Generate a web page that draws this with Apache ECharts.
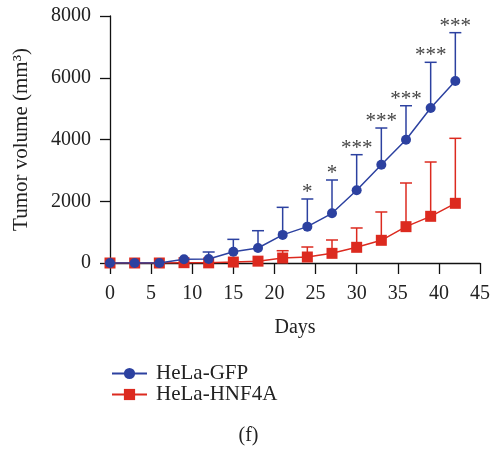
<!DOCTYPE html>
<html><head><meta charset="utf-8">
<script src="https://cdn.jsdelivr.net/npm/echarts@6/dist/echarts.min.js"></script>
<style>html,body{margin:0;padding:0;background:#fff}#c{width:497px;height:449px}</style>
</head><body><div id="c"></div>
<script>
const days = [0,3,6,9,12,15,18,21,24,27,30,33,36,39,42];
const gfpMean = [0,0,0,120,130,366,486,910,1177,1609,2354,3184,3994,5020,5895];
const gfpErr  = [0,0,0,0,226,400,560,893,896,1079,1154,1188,1100,1480,1565];
const hnfMean = [0,0,0,10,5,30,60,160,194,313,508,735,1177,1512,1933];
const hnfErr  = [0,0,0,0,0,0,0,238,324,432,626,917,1414,1759,2105];
const sigLabels = ['','','','','','','','','*','*','***','***','***','***','***'];
const yTicks = [0,2000,4000,6000,8000];

const FONT = 'Liberation Serif';
const FS = 20;
const BLUE = '#2c41a0';
const RED = '#dc2a1f';

function errData(mean, err){
  return days.map((d,i)=>[d, mean[i], mean[i]+err[i]]);
}
function errRender(color){
  return function(params, api){
    const x = api.value(0), lo = api.value(1), hi = api.value(2);
    if (hi <= lo) return null;
    const p0 = api.coord([x, lo]);
    const p1 = api.coord([x, hi]);
    const w = 6;
    return {type:'group', children:[
      {type:'line', shape:{x1:p0[0],y1:p0[1],x2:p1[0],y2:p1[1]}, style:{stroke:color,lineWidth:1.5}},
      {type:'line', shape:{x1:p1[0]-w,y1:p1[1],x2:p1[0]+w,y2:p1[1]}, style:{stroke:color,lineWidth:1.5}}
    ]};
  };
}

const chart = echarts.init(document.getElementById('c'));
chart.setOption({
  animation:false,
  grid:{left:110,right:17,top:16,bottom:186},
  legend:{
    orient:'vertical', left:106, top:358, itemWidth:35, itemHeight:14, itemGap:0,
    textStyle:{fontFamily:FONT,fontSize:21,color:'#222',padding:[0,0,0,4]},
    data:['HeLa-GFP','HeLa-HNF4A']
  },
  graphic:[{type:'text', left:'center', top:426, style:{text:'(f)', font:FS+'px "Liberation Serif"', fill:'#222'}}],
  xAxis:{
    type:'value', min:0, max:45, interval:5,
    name:'Days', nameLocation:'middle', nameGap:55,
    nameTextStyle:{fontFamily:FONT,fontSize:FS,color:'#222'},
    axisLine:{lineStyle:{color:'#111',width:1.3}},
    axisTick:{show:true,length:11,lineStyle:{color:'#111',width:1.3}},
    axisLabel:{fontFamily:FONT,fontSize:FS,color:'#222',margin:21},
    splitLine:{show:false}
  },
  yAxis:{
    type:'value', min:0, max:8000, interval:2000,
    name:'Tumor volume (mm³)', nameLocation:'middle', nameGap:78,
    nameTextStyle:{fontFamily:FONT,fontSize:21,color:'#222'},
    axisLine:{show:true,lineStyle:{color:'#111',width:1.3}},
    axisTick:{show:true,length:10,lineStyle:{color:'#111',width:1.3}},
    axisLabel:{fontFamily:FONT,fontSize:FS,color:'#222',margin:19,
      formatter:v=>yTicks.includes(v)?String(v):''},
    splitLine:{show:false}
  },
  series:[
    {type:'custom', name:'errHNF', data:errData(hnfMean,hnfErr), renderItem:errRender(RED), encode:{x:0,y:[1,2]}, z:1},
    {type:'custom', name:'errGFP', data:errData(gfpMean,gfpErr), renderItem:errRender(BLUE), encode:{x:0,y:[1,2]}, z:1},
    {type:'line', name:'HeLa-HNF4A', data:days.map((d,i)=>[d,hnfMean[i]]), symbol:'rect', symbolSize:11,
      lineStyle:{color:RED,width:1.5}, itemStyle:{color:RED}, z:3},
    {type:'line', name:'HeLa-GFP', data:days.map((d,i)=>[d,gfpMean[i]]), symbol:'circle', symbolSize:10,
      lineStyle:{color:BLUE,width:1.5}, itemStyle:{color:BLUE}, z:4},
    {type:'custom', name:'sig', data:days.map((d,i)=>[d,gfpMean[i]+gfpErr[i],i]),
      encode:{x:0,y:1}, z:5,
      renderItem:function(params, api){
        const i = api.value(2);
        const t = sigLabels[i];
        if(!t) return null;
        const p = api.coord([api.value(0), api.value(1)]);
        return {type:'text', x:p[0], y:p[1]+4, style:{text:t, fill:'#444', font:'21px "Liberation Serif"', align:'center', verticalAlign:'bottom'}};
      }}
  ]
});
</script></body></html>
